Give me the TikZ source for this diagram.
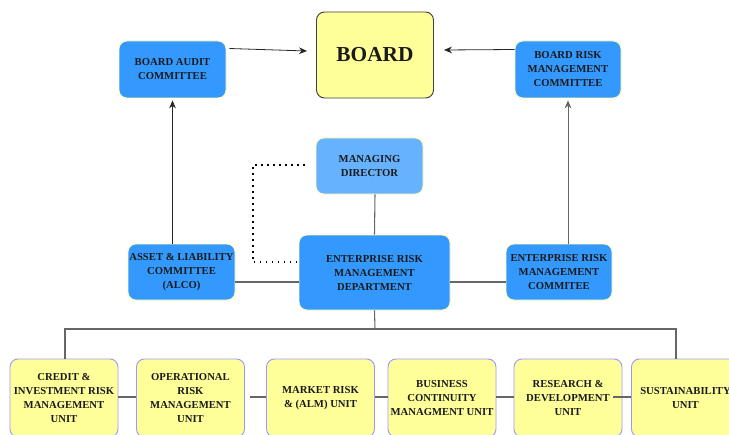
\documentclass[tikz,border=0pt]{standalone}
\usepackage{fontspec}
\setmainfont{Liberation Serif}
\usetikzlibrary{arrows.meta}
\definecolor{bluebox}{HTML}{3399FF}
\definecolor{mdblue}{HTML}{66B2FF}
\definecolor{yel}{HTML}{FFFF99}
\definecolor{unitborder}{HTML}{9999FF}
\definecolor{conn}{HTML}{666666}
\definecolor{txt}{HTML}{1A1A1A}
\tikzset{
  box/.style={rounded corners=6pt, align=center, inner sep=0pt, text=txt,
    font=\fontsize{8}{10.5}\selectfont\bfseries},
  bluenode/.style={box, fill=bluebox, draw=yel!80!white, line width=0.6pt},
  mdnode/.style={box, fill=mdblue, draw=yel!80!white, line width=0.6pt},
  boardnode/.style={box, fill=yel, draw=black!75, line width=0.7pt,
    font=\fontsize{16}{18}\selectfont\bfseries},
  unitnode/.style={box, fill=yel, draw=unitborder, line width=0.7pt,
    minimum width=81pt, minimum height=58.5pt},
  link/.style={draw=conn, line width=0.8pt},
  arrow/.style={draw=black!85, line width=0.6pt, -{Stealth[length=6pt,width=5pt]}},
  dotline/.style={draw=black, line width=1.4pt, dash pattern=on 1.2pt off 3.3pt}
}
\begin{document}
\begin{tikzpicture}[x=0.75pt,y=-0.75pt]
\useasboundingbox (0,0) rectangle (729,435);
% top row
\node[boardnode, minimum width=87.75pt, minimum height=64.5pt] (board) at (375,55) {BOARD};
\node[bluenode, minimum width=80.25pt, minimum height=42.75pt] (audit) at (172.5,69.5) {BOARD AUDIT\\COMMITTEE};
\node[bluenode, minimum width=79.5pt, minimum height=42.75pt] (brmc) at (568,69.5) {BOARD RISK\\MANAGEMENT\\COMMITTEE};
% middle
\node[mdnode, minimum width=80.25pt, minimum height=42pt] (md) at (369.5,166) {MANAGING\\DIRECTOR};
\node[bluenode, minimum width=80.25pt, minimum height=42pt] (alco) at (181.5,272) {ASSET \& LIABILITY\\COMMITTEE\\(ALCO)};
\node[bluenode, minimum width=113.25pt, minimum height=56.25pt] (ermd) at (374.5,272.5) {ENTERPRISE RISK\\MANAGEMENT\\DEPARTMENT};
\node[bluenode, minimum width=79.5pt, minimum height=42pt] (ermc) at (559,272) {ENTERPRISE RISK\\MANAGEMENT\\COMMITEE};
% units
\node[unitnode] (u1) at (64,398) {CREDIT \&\\INVESTMENT RISK\\MANAGEMENT\\UNIT};
\node[unitnode] (u2) at (190.5,398) {OPERATIONAL\\RISK\\MANAGEMENT\\UNIT};
\node[unitnode] (u3) at (320.5,398) {MARKET RISK\\\& (ALM) UNIT};
\node[unitnode] (u4) at (442,398) {BUSINESS\\CONTINUITY\\MANAGMENT UNIT};
\node[unitnode] (u5) at (568,398) {RESEARCH \&\\DEVELOPMENT\\UNIT};
\node[unitnode] (u6) at (685.5,398) {SUSTAINABILITY\\UNIT};
\coordinate (bus) at (375,329);
% arrows
\draw[arrow] ([shift={(3,-21)}]audit.east) -- ([shift={(-9,-4)}]board.west);
\draw[arrow] ([shift={(0,-20)}]brmc.west) -- ([shift={(10,-5)}]board.east);
\draw[arrow] ([shift={(-9,0)}]alco.north) -- ([shift={(0,2)}]audit.south);
\draw[arrow, draw=conn] ([shift={(9,0)}]ermc.north) -- ([shift={(0,2)}]brmc.south);
% links
\draw[link] ([shift={(5.5,0)}]md.south) -- (ermd.north);
\draw[dotline] ([shift={(-11,-1)}]md.west) -| ([shift={(-46,-10.5)}]ermd.west) -- ([shift={(-1,-10.5)}]ermd.west);
\draw[link] ([shift={(0,10)}]alco.east) -- ([shift={(0,9.5)}]ermd.west);
\draw[link] ([shift={(0,9.5)}]ermd.east) -- ([shift={(0,10)}]ermc.west);
\draw[link] (ermd.south) -- (bus);
\draw[link] ([shift={(1,0)}]u1.north) |- (bus) -| ([shift={(-9.5,0)}]u6.north);
\draw[link] ([shift={(0,-1)}]u1.east) -- ([shift={(0,-1)}]u2.west);
\draw[link] ([shift={(5,-1)}]u2.east) -- ([shift={(0,-1)}]u3.west);
\draw[link] ([shift={(0,-1)}]u3.east) -- ([shift={(0,-1)}]u4.west);
\draw[link] ([shift={(0,-1)}]u4.east) -- ([shift={(0,-1)}]u5.west);
\draw[link] ([shift={(-9,-1)}]u5.east) -- ([shift={(0,-1)}]u6.west);
\end{tikzpicture}
\end{document}
